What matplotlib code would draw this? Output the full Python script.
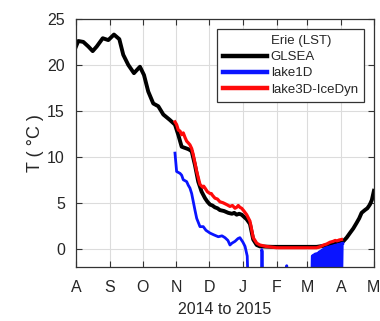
import matplotlib
matplotlib.use('Agg')
import matplotlib.pyplot as plt
from matplotlib.lines import Line2D

plt.rcParams['font.family'] = ['Liberation Sans', 'DejaVu Sans']

# days since 1 Aug 2014, temperatures
glsea_day = [0, 2.1, 6.7, 11.3, 15.3, 19, 24.5, 29.6, 34.8, 39.7, 43.3, 47.9, 53.1, 58.6,
             62.3, 66.2, 70.8, 75.4, 80, 86.1, 90.7, 93.7, 96.8, 99.0, 101.4, 103.5, 106,
             109, 112, 115.1, 118.2, 120.5, 122.8, 125.0, 127.3, 129.6, 131.9, 135.6, 139.5,
             142.9, 145.0, 147.2, 149.5, 151.8, 156.4, 159.4, 162.4, 165.6, 168.6, 180,
             200, 220.5, 226.3, 232.7, 238.2, 241.8, 244.9, 248, 251, 254.1, 257.1, 259.5,
             261.7, 264.7, 267.0, 269.3, 271.1, 273]
glsea_t = [22.0, 22.6, 22.5, 22.0, 21.5, 22.0, 22.9, 22.7, 23.3, 22.8, 21.1, 20.0, 19.1, 19.8,
           18.9, 17.1, 15.8, 15.5, 14.6, 14.0, 13.5, 12.4, 11.1, 11.0, 10.9, 10.8, 10.6,
           9.1, 7.3, 6.2, 5.5, 5.1, 4.8, 4.7, 4.5, 4.4, 4.2, 4.1, 3.9,
           3.8, 3.9, 3.7, 3.8, 3.7, 3.2, 2.7, 1.0, 0.4, 0.25, 0.2,
           0.2, 0.2, 0.3, 0.4, 0.55, 0.6, 0.8, 1.2, 1.7, 2.2, 2.8, 3.3,
           3.9, 4.2, 4.4, 4.8, 5.3, 6.3]

ice_day = [90.7, 92.2, 93.8, 95.3, 96.8, 98.3, 99.9, 101.4, 103.0, 104.4, 106.0, 107.5,
           110.6, 113.6, 115.9, 117.0, 118.2, 120.4, 122.8, 124.0, 125.1, 127.3, 129.6,
           131.9, 134.7, 136.4, 138.1, 141.1, 143.4, 145.7, 147.2, 148.7, 150.2, 151.8,
           153.9, 156.4, 159.4, 162.4, 165.6, 168.6, 174, 183.9, 200, 220.5, 224.4, 226.8,
           229.6, 232.7, 235.7, 237.5, 239.2, 241.2, 243.3]
ice_t = [13.8, 13.5, 12.9, 12.8, 12.4, 12.6, 12.1, 11.7, 11.5, 11.3, 10.9, 10.2,
         8.4, 7.0, 6.7, 6.8, 6.6, 6.2, 6.0, 6.0, 5.8, 5.5, 5.4,
         5.1, 5.0, 4.9, 4.8, 4.6, 4.7, 4.4, 4.5, 4.7, 4.5, 4.4,
         4.1, 3.7, 3.0, 1.2, 0.6, 0.4, 0.25, 0.1, 0.1, 0.1, 0.25, 0.4,
         0.5, 0.7, 0.8, 0.9, 0.85, 0.95, 1.0]

l1d_day = [90.7, 92.2, 93.7, 95.3, 96.8, 98.3, 99.9, 101.4, 102.9, 104.4, 106.0, 107.5,
           109.0, 110.6, 113.6, 116.6, 119.1, 122.8, 126.4, 130.4, 133.8, 136.5, 139.2,
           141.1, 142.9, 145.7, 148.4, 150.2, 153.0, 154.9, 156.9, 158.0, 169.8, 170.2,
           170.7, 171.1, 192.8, 193.1, 193.4, 215.8, 216.5, 217.5, 218.2, 218.8, 220, 221,
           221.6, 222.6, 223.5, 224.2, 225, 226, 226.8, 227.5, 228.3, 229, 229.8, 230.5,
           231.3, 232, 232.8, 233.5, 234.3, 235, 235.8, 236.5, 237.3, 238, 238.8, 239.5,
           240.3, 241, 241.8, 242.5, 243.3, 244, 244.6]
l1d_t = [10.4, 8.4, 8.3, 8.2, 8.0, 7.5, 7.4, 7.3, 6.9, 6.6, 6.0, 5.1,
         4.2, 3.3, 2.4, 2.4, 2.0, 1.7, 1.5, 1.3, 1.4, 1.2, 0.9,
         0.4, 0.6, 0.8, 1.1, 1.2, 0.7, 0.25, -0.8, -5, -5, -0.1,
         -0.3, -5, -5, -1.85, -5, -5, -0.8, -0.7, -5, -0.6, -0.55, -5,
         -0.5, -0.4, -0.3, -5, -0.2, -0.1, -5, 0.0, -5, 0.1, -5, 0.15,
         -5, 0.2, -5, 0.25, -5, 0.3, -5, 0.35, -5, 0.4, -5, 0.45,
         -5, 0.5, -5, 0.55, -5, 0.6, 0.6]

month_days = [0, 31, 61, 92, 122, 153, 184, 212, 243, 273]
month_labels = ['A', 'S', 'O', 'N', 'D', 'J', 'F', 'M', 'A', 'M']
text_c = '#262626'

fig = plt.figure(figsize=(3.8, 3.21), dpi=100)
ax = fig.add_axes([0.2, 0.168, 0.784, 0.773])

ax.plot(glsea_day, glsea_t, color='black', lw=2.8)
ax.plot(l1d_day, l1d_t, color='#0a14ff', lw=2.0)
ax.plot(ice_day, ice_t, color='#ff0a0a', lw=2.3)

ax.set_xlim(0, 273)
ax.set_ylim(-2, 25)
ax.set_xticks(month_days)
ax.set_xticklabels(month_labels)
ax.set_yticks([0, 5, 10, 15, 20, 25])
ax.grid(True, color='#dcdcdc', lw=0.8)
ax.set_axisbelow(True)
ax.tick_params(direction='in', top=True, right=True, length=4, width=0.8,
               labelsize=11.5, labelcolor=text_c, color='#333333')
ax.tick_params(axis='x', pad=9)
ax.tick_params(axis='y', pad=8)
for s in ax.spines.values():
    s.set_color('#333333')
    s.set_linewidth(0.9)

ax.set_ylabel('T ( °C )', fontsize=13, color=text_c, labelpad=2)
ax.set_xlabel('2014 to 2015', fontsize=11.5, color=text_c, labelpad=5)

handles = [Line2D([], [], color='none'),
           Line2D([], [], color='black', lw=3.2),
           Line2D([], [], color='#0a14ff', lw=3.2),
           Line2D([], [], color='#ff0a0a', lw=3.2)]
labels = ['Erie (LST)', 'GLSEA', 'lake1D', 'lake3D-IceDyn']
leg = ax.legend(handles, labels, loc='upper right', bbox_to_anchor=(0.966, 0.96),
                borderaxespad=0, fontsize=9.5, handlelength=3.4, handletextpad=0.25,
                labelspacing=0.3, borderpad=0.45, fancybox=False, framealpha=1,
                edgecolor='#333333')
leg.get_frame().set_linewidth(0.9)
for t in leg.get_texts():
    t.set_color(text_c)

fig.savefig('out.png', dpi=100)
